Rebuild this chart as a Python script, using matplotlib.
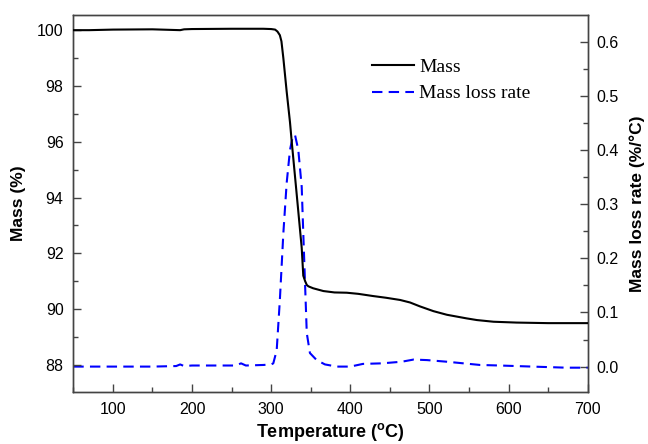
import numpy as np
import matplotlib
matplotlib.use("Agg")
import matplotlib.pyplot as plt
from matplotlib.ticker import MultipleLocator

# TGA data
temp_mass = [50, 70, 100, 150, 185, 190, 200, 250, 290, 300, 305, 308, 311, 313,
             315.4, 319.6, 323.8, 326, 332, 338.6, 340.6, 343, 345, 347, 353, 366,
             380, 395.5, 410, 429, 445, 463, 475.5, 488, 505, 522, 547, 560, 581,
             610, 650, 700]
mass = [100.0, 100.0, 100.02, 100.03, 100.0, 100.03, 100.04, 100.05, 100.05, 100.04,
        100.02, 99.95, 99.82, 99.6, 99.0, 97.8, 96.7, 96.0, 94.2, 92.2, 91.2, 91.0,
        90.87, 90.82, 90.75, 90.65, 90.6, 90.59, 90.55, 90.47, 90.41, 90.33, 90.24,
        90.1, 89.93, 89.8, 89.67, 89.61, 89.55, 89.52, 89.5, 89.5]

temp_rate = [50, 150, 180, 185, 190, 200, 255, 262, 268, 290, 300, 302.7, 307, 311,
             315.4, 319.6, 323.8, 327.2, 330.1, 334.3, 338.6, 340.6, 342.8, 345, 349,
             357.5, 368, 383, 400, 416, 440, 465, 480, 497, 522, 564, 589, 630, 673, 700]
rate = [0.0, 0.0, 0.001, 0.004, 0.001, 0.002, 0.002, 0.006, 0.002, 0.003, 0.004,
        0.006, 0.03, 0.123, 0.246, 0.339, 0.40, 0.424, 0.428, 0.40, 0.332, 0.246,
        0.154, 0.062, 0.025, 0.012, 0.004, 0.0, 0.0, 0.005, 0.006, 0.009, 0.013,
        0.012, 0.009, 0.003, 0.002, 0.0, -0.002, -0.002]

plt.rcParams["font.family"] = ["Liberation Sans", "DejaVu Sans"]
plt.rcParams["mathtext.default"] = "regular"
spine_col = "#444444"

fig = plt.figure(figsize=(6.48, 4.44), dpi=100)
ax = fig.add_axes([0.1131, 0.117, 0.907 - 0.1131, 0.966 - 0.117])
ax2 = ax.twinx()

l1, = ax.plot(temp_mass, mass, color="black", lw=1.5, label="Mass", zorder=3)
l2, = ax2.plot(temp_rate, rate, color="#0000ff", lw=1.5, ls=(0, (5, 3)),
               label="Mass loss rate")
ax.set_zorder(ax2.get_zorder() + 1)
ax.patch.set_visible(False)

ax.set_xlim(50, 700)
ax.set_ylim(87.03, 100.54)
ax2.set_ylim(-0.047, 0.649)

ax.xaxis.set_major_locator(MultipleLocator(100))
ax.xaxis.set_minor_locator(MultipleLocator(50))
ax.yaxis.set_major_locator(MultipleLocator(2))
ax.yaxis.set_minor_locator(MultipleLocator(1))
ax2.yaxis.set_major_locator(MultipleLocator(0.1))
ax2.yaxis.set_minor_locator(MultipleLocator(0.05))
ax2.yaxis.set_major_formatter(plt.FormatStrFormatter("%.1f"))

for a in (ax, ax2):
    a.tick_params(which="major", direction="in", length=5.5, width=1.0,
                  color=spine_col, labelsize=11.5, pad=7)
    a.tick_params(which="minor", direction="in", length=3.5, width=1.0,
                  color=spine_col)
    for s in a.spines.values():
        s.set_color(spine_col)
        s.set_linewidth(1.0)
ax.tick_params(axis="y", which="both", right=False)
ax.tick_params(axis="x", which="both", top=False)
ax2.tick_params(axis="y", pad=6)

ax.set_xlabel(r"Temperature ($^{o}$C)", fontsize=13, fontweight="bold", labelpad=3)
ax.set_ylabel("Mass (%)", fontsize=12.5, fontweight="bold", labelpad=8)
ax2.set_ylabel("Mass loss rate (%/°C)", fontsize=12.5, fontweight="bold", labelpad=8)

ax.legend([l1, l2], ["Mass", "Mass loss rate"], loc="upper left",
          bbox_to_anchor=(0.58, 0.885), frameon=False, borderpad=0,
          borderaxespad=0, handlelength=2.2, handletextpad=0.25,
          labelspacing=0.45, prop={"family": "Liberation Serif", "size": 14})

fig.savefig("out.png", dpi=100)
